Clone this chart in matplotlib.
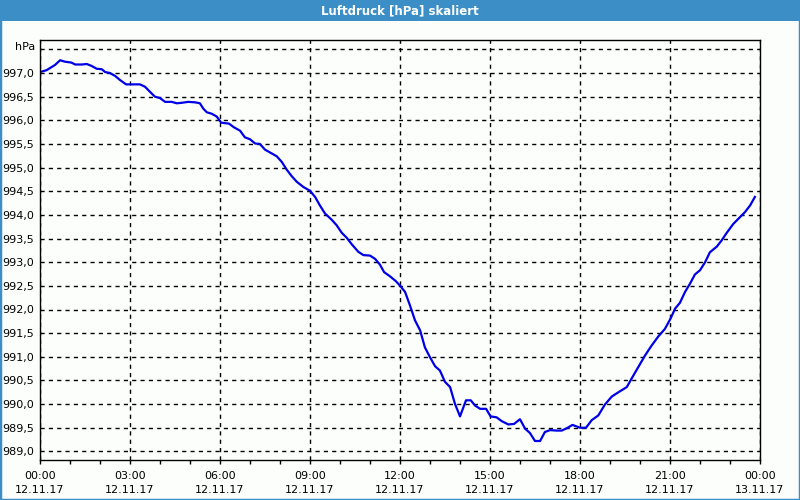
import matplotlib.pyplot as plt
from matplotlib.patches import Rectangle
from matplotlib.ticker import MultipleLocator

# Pressure readings, hours since 12.11.17 00:00
hours = [0.0, 0.22, 0.5, 0.67, 0.83, 1.05, 1.17, 1.39, 1.56, 1.72, 1.89, 2.06, 2.17,
         2.33, 2.5, 2.67, 2.87, 3.11, 3.33, 3.5, 3.67, 3.83, 4.0, 4.17, 4.39, 4.56,
         4.72, 4.94, 5.17, 5.33, 5.44, 5.56, 5.72, 5.89, 6.04, 6.3, 6.47, 6.67, 6.83,
         7.0, 7.17, 7.33, 7.5, 7.72, 7.89, 8.06, 8.22, 8.39, 8.56, 8.78, 9.0, 9.17,
         9.33, 9.5, 9.72, 9.89, 10.06, 10.22, 10.39, 10.61, 10.78, 11.0, 11.17, 11.33,
         11.47, 11.67, 11.86, 12.02, 12.17, 12.33, 12.5, 12.67, 12.83, 13.0, 13.17,
         13.33, 13.5, 13.67, 13.83, 14.0, 14.2, 14.36, 14.5, 14.67, 14.87, 15.02,
         15.22, 15.39, 15.61, 15.8, 16.0, 16.17, 16.33, 16.5, 16.67, 16.83, 17.0,
         17.22, 17.39, 17.56, 17.75, 18.0, 18.2, 18.39, 18.61, 18.83, 19.06, 19.28,
         19.56, 19.72, 19.94, 20.17, 20.39, 20.61, 20.83, 21.02, 21.17, 21.33, 21.5,
         21.67, 21.83, 22.0, 22.17, 22.33, 22.56, 22.72, 22.89, 23.11, 23.33, 23.5,
         23.67, 23.83]
pressure = [997.02, 997.06, 997.17, 997.27, 997.24, 997.22, 997.18, 997.18, 997.19,
            997.15, 997.09, 997.08, 997.02, 997.0, 996.94, 996.85, 996.76, 996.76,
            996.76, 996.71, 996.6, 996.5, 996.47, 996.39, 996.39, 996.36, 996.37,
            996.39, 996.38, 996.36, 996.25, 996.17, 996.14, 996.08, 995.95, 995.93,
            995.85, 995.78, 995.64, 995.6, 995.51, 995.5, 995.38, 995.3, 995.24,
            995.12, 994.96, 994.82, 994.7, 994.59, 994.51, 994.38, 994.2, 994.03,
            993.9, 993.78, 993.62, 993.52, 993.38, 993.22, 993.15, 993.14, 993.07,
            992.95, 992.79, 992.7, 992.6, 992.49, 992.37, 992.09, 991.77, 991.56,
            991.2, 990.99, 990.8, 990.71, 990.47, 990.36, 990.01, 989.74, 990.08,
            990.08, 989.97, 989.9, 989.9, 989.74, 989.72, 989.64, 989.57, 989.58,
            989.68, 989.48, 989.39, 989.22, 989.22, 989.41, 989.45, 989.44, 989.44,
            989.49, 989.56, 989.5, 989.5, 989.66, 989.76, 989.99, 990.16, 990.25,
            990.36, 990.54, 990.78, 991.03, 991.24, 991.43, 991.59, 991.81, 992.02,
            992.14, 992.37, 992.55, 992.74, 992.83, 993.0, 993.21, 993.33, 993.46,
            993.62, 993.81, 993.95, 994.06, 994.2, 994.38]

x_times = ['00:00', '03:00', '06:00', '09:00', '12:00', '15:00', '18:00', '21:00', '00:00']
x_dates = ['12.11.17'] * 8 + ['13.11.17']
y_levels = [989.0, 989.5, 990.0, 990.5, 991.0, 991.5, 992.0, 992.5, 993.0, 993.5,
            994.0, 994.5, 995.0, 995.5, 996.0, 996.5, 997.0]

title_blue = '#3c8fc6'

fig = plt.figure(figsize=(8, 5), dpi=100)
fig.patch.set_facecolor('#fcfefc')

# window frame and title bar
fig.patches.append(Rectangle((0, 0), 1, 1, transform=fig.transFigure, fill=False,
                             edgecolor=title_blue, linewidth=2.5))
fig.patches.append(Rectangle((0, 0.958), 1, 0.042, transform=fig.transFigure,
                             facecolor=title_blue, edgecolor='none'))
fig.text(0.5, 0.979, 'Luftdruck [hPa] skaliert', color='white', fontsize=8.5,
         fontweight='bold', ha='center', va='center')

ax = fig.add_axes([0.05, 0.08, 0.90, 0.84])
ax.set_facecolor('#fcfefc')
ax.plot(hours, pressure, color='#0000e6', linewidth=1.6)

ax.set_xlim(0, 24)
ax.set_ylim(988.818, 997.698)

ax.set_xticks(range(0, 25, 3))
ax.set_xticklabels([t + '\n' + d for t, d in zip(x_times, x_dates)], fontsize=8,
                   linespacing=1.45)
ax.xaxis.set_minor_locator(MultipleLocator(1))
ax.tick_params(axis='x', which='both', direction='out', length=3, width=1, pad=5)

ax.set_yticks(y_levels + [997.5])
ax.set_yticklabels([f'{v:.1f}'.replace('.', ',') for v in y_levels] + [''], fontsize=8)
ax.tick_params(axis='y', length=0, pad=4)
ax.text(-0.006, 997.56, 'hPa', transform=ax.get_yaxis_transform(), fontsize=8,
        ha='right', va='center')

ax.grid(True, which='major', color='black', linestyle=(0, (3, 3)), linewidth=1)
for s in ax.spines.values():
    s.set_color('black')
    s.set_linewidth(1)

plt.savefig('out.png', dpi=100, facecolor=fig.get_facecolor())
